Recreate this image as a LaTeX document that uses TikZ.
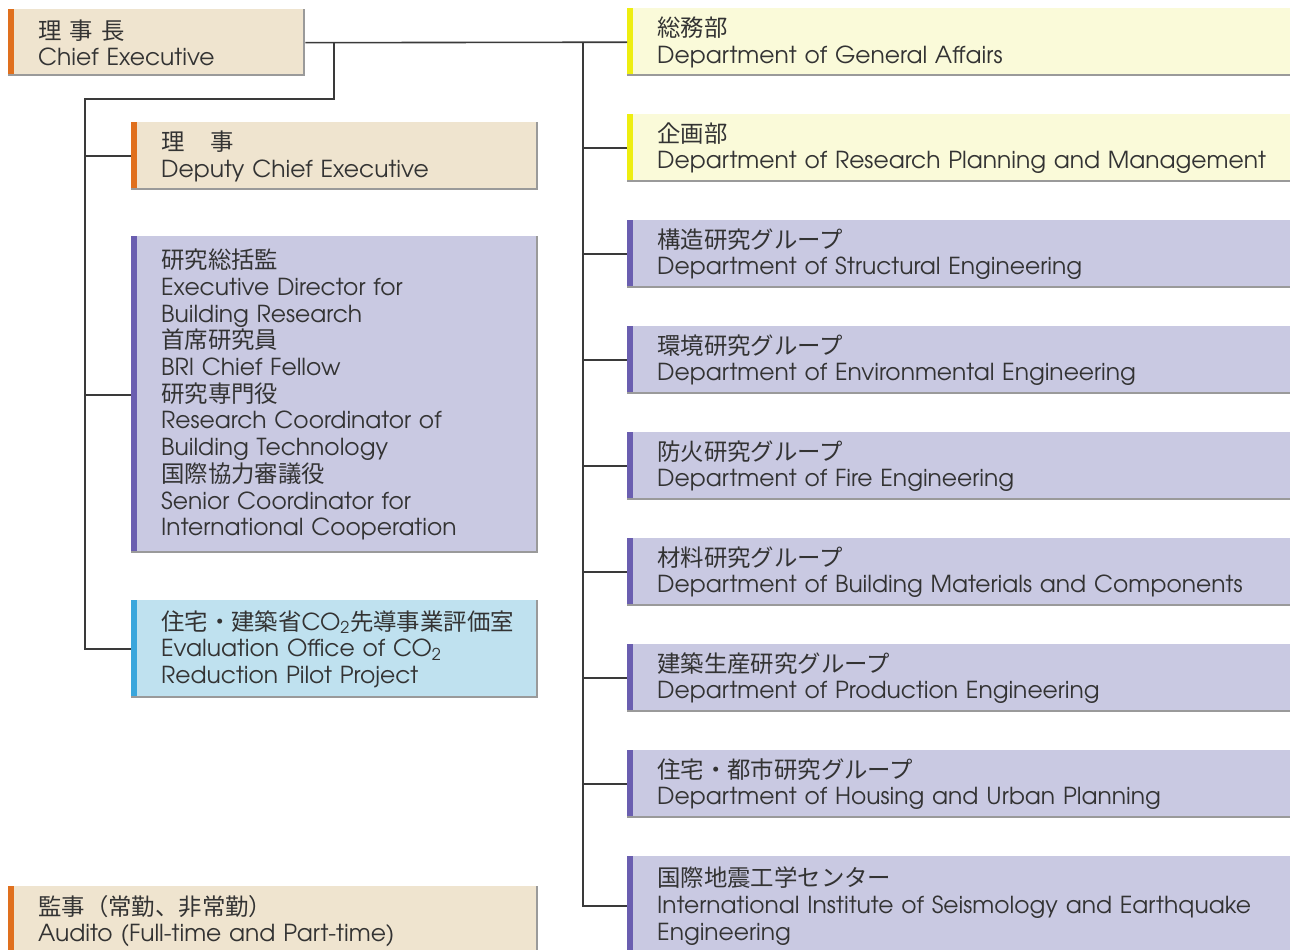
\documentclass[tikz,border=0pt]{standalone}
\usepackage{fontspec}
\setmainfont{TeX Gyre Adventor}
\newfontfamily\jp{Noto Sans CJK JP}
\definecolor{txt}{HTML}{333333}
\definecolor{beige}{HTML}{EFE4CF}
\definecolor{orangebar}{HTML}{E0701E}
\definecolor{yelfill}{HTML}{FAFAD9}
\definecolor{yelbar}{HTML}{EEEE10}
\definecolor{purfill}{HTML}{C9C9E2}
\definecolor{purbar}{HTML}{6A5EB0}
\definecolor{bluefill}{HTML}{BFE1EF}
\definecolor{bluebar}{HTML}{3AA6DC}
\definecolor{edgegray}{HTML}{9A9A9A}
\definecolor{linec}{HTML}{3A3A3A}
\tikzset{
  orgbox/.style n args={4}{rectangle, anchor=north west, fill=#1,
    inner xsep=30pt, inner ysep=0pt, align=left, text width=#3, minimum height=#4,
    text=txt, font=\fontsize{23.4}{26.7}\selectfont,
    path picture={
      \fill[#2] (path picture bounding box.north west) rectangle ([xshift=6pt]path picture bounding box.south west);
      \draw[draw=edgegray, line width=2pt] ([yshift=1pt]path picture bounding box.south west) -- ([xshift=-1pt,yshift=1pt]path picture bounding box.south east) -- ([xshift=-1pt]path picture bounding box.north east);
    }},
  conn/.style={draw=linec, line width=1.6pt}
}
\begin{document}
\begin{tikzpicture}[x=1pt,y=-1pt]
\useasboundingbox (0,0) rectangle (1290,950);
\clip (0,0) rectangle (1290,950);
\fill[white] (0,0) rectangle (1290,950);
% left column
\node[orgbox={beige}{orangebar}{237pt}{67pt}] (ce) at (8,9) {{\jp 理\hspace{0.35em}事\hspace{0.35em}長}\\Chief Executive};
\node[orgbox={beige}{orangebar}{347pt}{68pt}] (dep) at (131,122) {{\jp 理\hspace{1.1em}事}\\Deputy Chief Executive};
\node[orgbox={purfill}{purbar}{347pt}{317pt}] (res) at (131,236) {{\jp 研究総括監}\\Executive Director for\\Building Research\\{\jp 首席研究員}\\BRI Chief Fellow\\{\jp 研究専門役}\\Research Coordinator of\\Building Technology\\{\jp 国際協力審議役}\\Senior Coordinator for\\International Cooperation};
\node[orgbox={bluefill}{bluebar}{347pt}{98pt}] (ev) at (131,600) {{\jp 住宅・建築省}CO\textsubscript{2}{\jp 先導事業評価室}\\Evaluation Office of CO\textsubscript{2}\\Reduction Pilot Project};
\node[orgbox={beige}{orangebar}{470pt}{70pt}] (aud) at (8,886) {{\jp 監事（常勤、非常勤）}\\Audito (Full-time and Part-time)};
% right column
\node[orgbox={yelfill}{yelbar}{620pt}{68pt}] (ga) at (627,8) {{\jp 総務部}\\Department of General Affairs};
\node[orgbox={yelfill}{yelbar}{620pt}{68pt}] (pl) at (627,114) {{\jp 企画部}\\Department of Research Planning and Management};
\node[orgbox={purfill}{purbar}{620pt}{68pt}] (st) at (627,220) {{\jp 構造研究グループ}\\Department of Structural Engineering};
\node[orgbox={purfill}{purbar}{620pt}{68pt}] (en) at (627,326) {{\jp 環境研究グループ}\\Department of Environmental Engineering};
\node[orgbox={purfill}{purbar}{620pt}{68pt}] (fi) at (627,432) {{\jp 防火研究グループ}\\Department of Fire Engineering};
\node[orgbox={purfill}{purbar}{620pt}{68pt}] (ma) at (627,538) {{\jp 材料研究グループ}\\Department of Building Materials and Components};
\node[orgbox={purfill}{purbar}{620pt}{68pt}] (pr) at (627,644) {{\jp 建築生産研究グループ}\\Department of Production Engineering};
\node[orgbox={purfill}{purbar}{620pt}{68pt}] (ho) at (627,750) {{\jp 住宅・都市研究グループ}\\Department of Housing and Urban Planning};
\node[orgbox={purfill}{purbar}{620pt}{100pt}] (ii) at (627,856) {{\jp 国際地震工学センター}\\International Institute of Seismology and Earthquake\\Engineering};
% connectors
\coordinate (rt) at (583,42);
\coordinate (lk) at (334,99);
\coordinate (lt) at (85,99);
\draw[conn] (ce.east) -- (ga.west);
\draw[conn] (ce.east -| rt) |- (ii.west);
\foreach \n in {pl,st,en,fi,ma,pr,ho} \draw[conn] (rt |- \n.west) -- (\n.west);
\draw[conn] (ce.east -| lk) -- (lk) -- (lt) |- (ev.west);
\draw[conn] (lt |- dep.west) -- (dep.west);
\draw[conn] (lt |- res.west) -- (res.west);
\end{tikzpicture}
\end{document}
